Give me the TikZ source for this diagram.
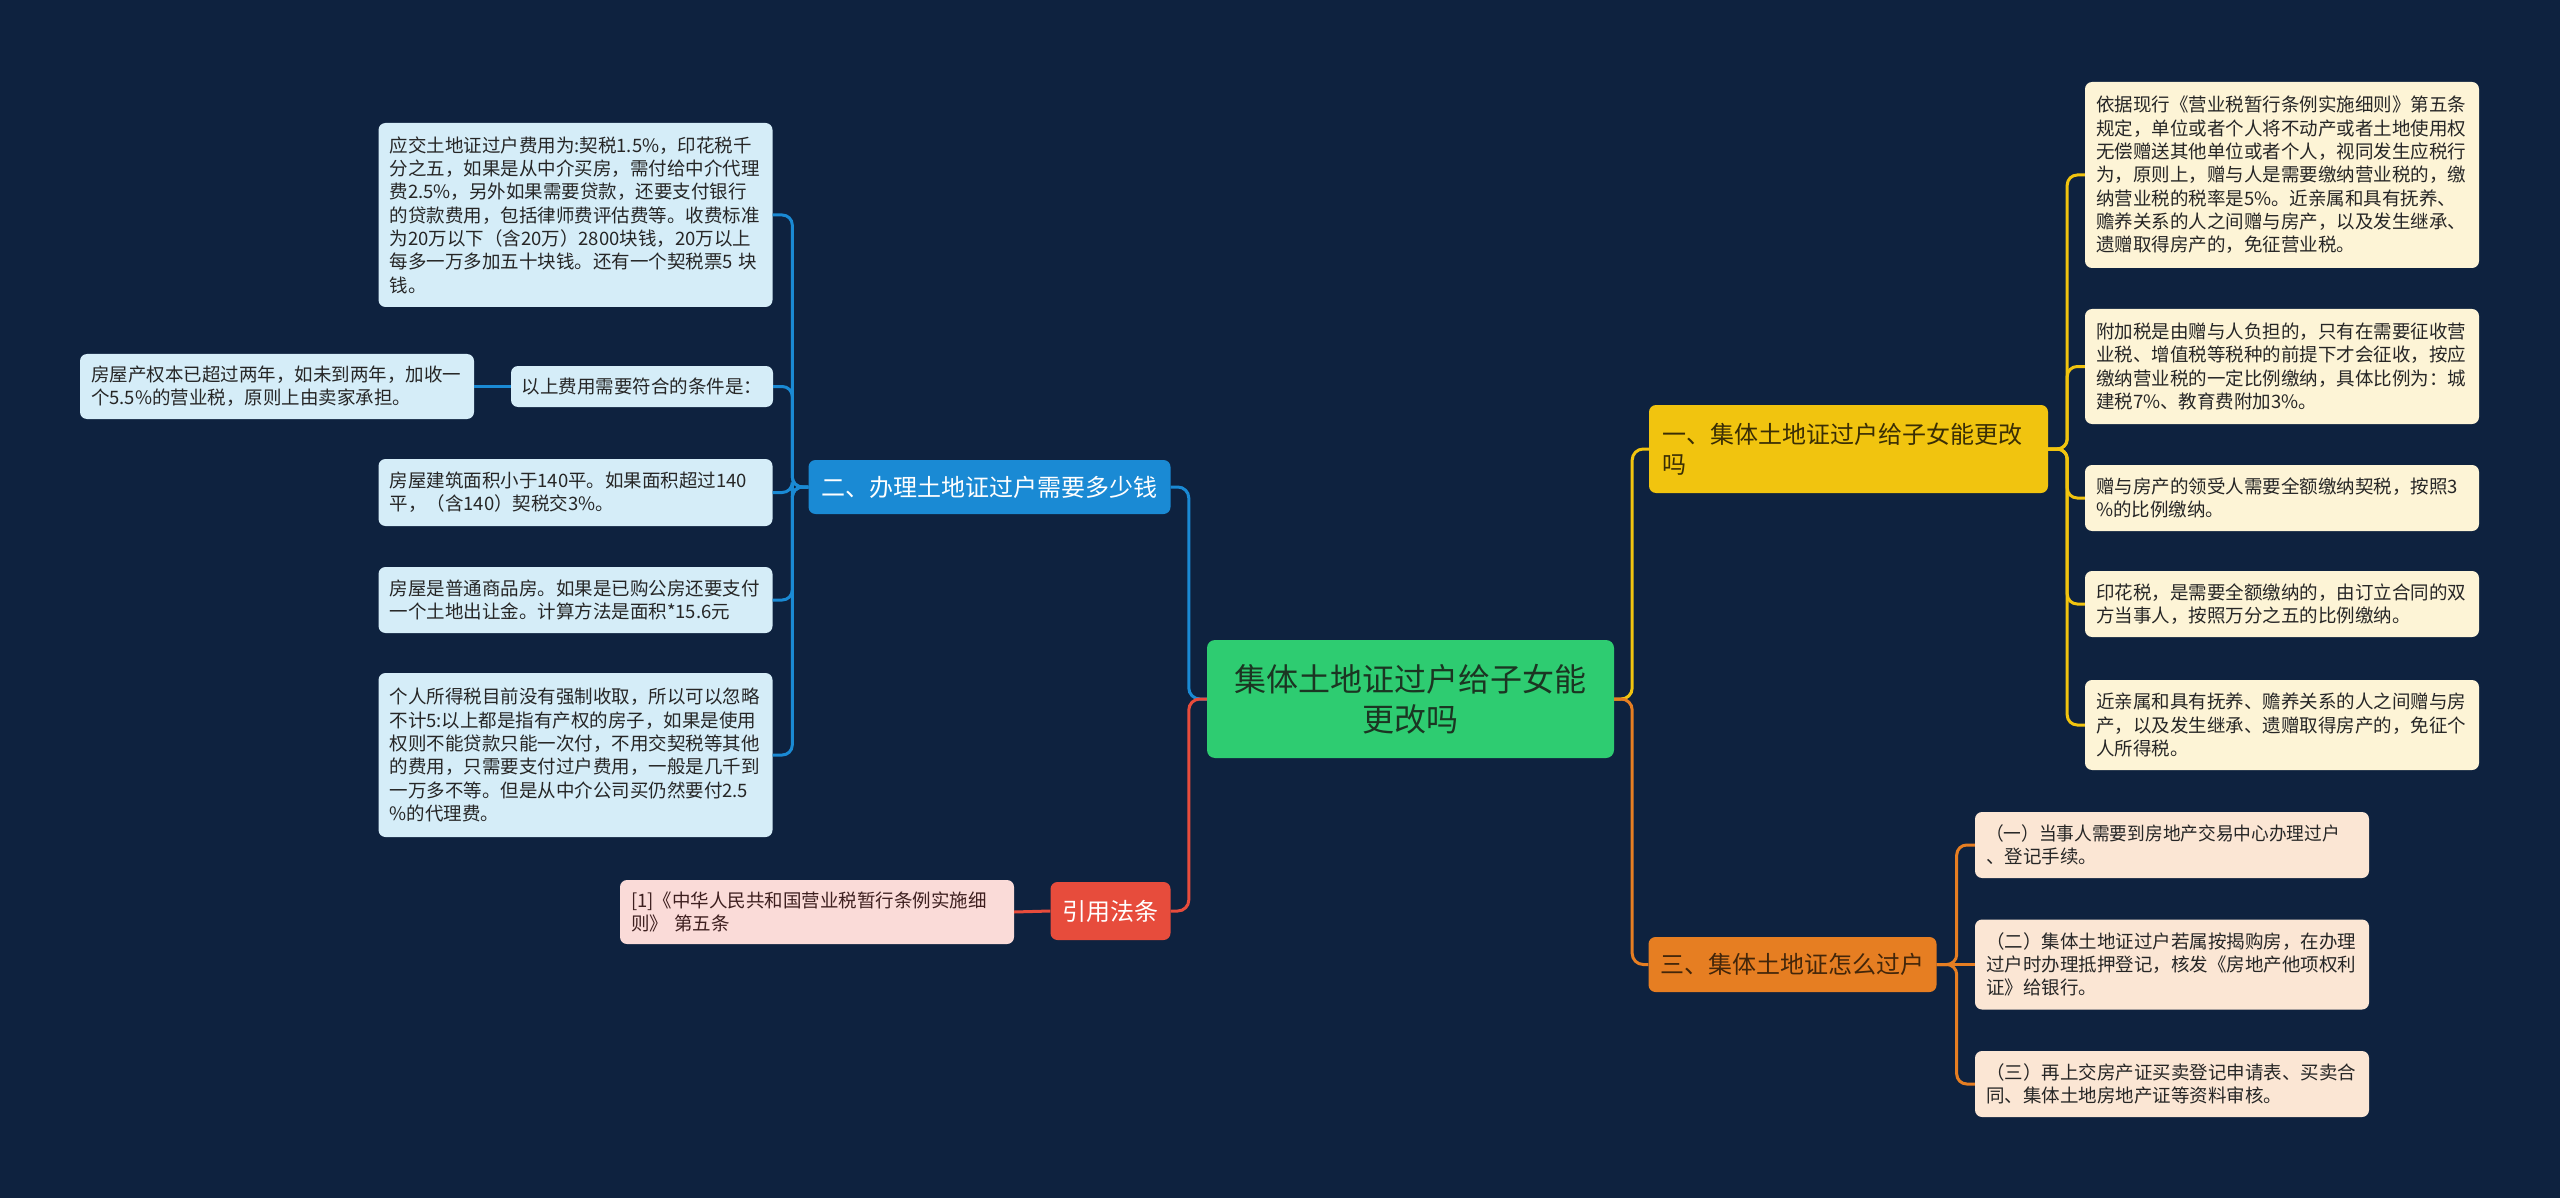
\documentclass[tikz,border=0pt]{standalone}
\usepackage{fontspec}
\setmainfont{Noto Sans CJK SC}
\usepackage{graphicx}
\usetikzlibrary{calc}
\definecolor{bgc}{HTML}{0E223F}
\definecolor{greenc}{HTML}{2ECC71}
\definecolor{yellowc}{HTML}{F1C40F}
\definecolor{orangec}{HTML}{E67E22}
\definecolor{redc}{HTML}{E74C3C}
\definecolor{bluec}{HTML}{1A8AD4}
\definecolor{bluelf}{HTML}{D5EDF8}
\definecolor{creamlf}{HTML}{FDF4D6}
\definecolor{orangelf}{HTML}{FBE6D4}
\definecolor{pinklf}{HTML}{FADBD8}
\definecolor{leaftxt}{HTML}{262626}
\definecolor{pinktxt}{HTML}{3D1F1F}
\definecolor{ctrtxt}{HTML}{1B3522}
\definecolor{ybtxt}{HTML}{3A2E05}
\definecolor{obtxt}{HTML}{43260A}
\newcommand\leaffont{\fontsize{18.5}{23.3}\selectfont}
\newcommand\brfont{\fontsize{24}{30}\selectfont}
\newcommand\ctrfont{\fontsize{32}{40}\selectfont}
\begin{document}
\begin{tikzpicture}[x=1pt,y=-1pt,
  leaf/.style={rounded corners=7pt, inner xsep=11pt, inner ysep=0pt, text width=372pt, align=left, font=\leaffont, text=leaftxt},
  blueleaf/.style={leaf, fill=bluelf},
  creamleaf/.style={leaf, fill=creamlf},
  orangeleaf/.style={leaf, fill=orangelf},
  pinkleaf/.style={leaf, fill=pinklf, text=pinktxt},
  branch/.style={rounded corners=7pt, inner xsep=13pt, inner ysep=0pt, font=\brfont},
  link/.style={line width=3pt, rounded corners=11pt},
  ylink/.style={link, draw=yellowc},
  olink/.style={link, draw=orangec},
  blink/.style={link, draw=bluec},
  rlink/.style={link, draw=redc}]
\fill[bgc] (0,0) rectangle (2560,1198);
\useasboundingbox (0,0) rectangle (2560,1198);

% center
\node[rounded corners=8pt, fill=greenc, text=ctrtxt, font=\ctrfont, align=center,
  minimum width=407pt, minimum height=118pt, inner sep=0pt] (ctr) at (1410.5,699)
  {集体土地证过户给子女能\\更改吗};

% main branches
\node[branch, fill=yellowc, text=ybtxt, text width=373pt, align=left, minimum height=88pt] (yb) at (1848.5,449)
  {一、集体土地证过户给子女能更改\\吗};
\node[branch, fill=orangec, text=obtxt, inner xsep=12pt, minimum height=55pt] (ob) at (1792.5,964.5)
  {三、集体土地证怎么过户};
\node[branch, fill=bluec, text=white, minimum height=54pt] (bb) at (989.5,487)
  {二、办理土地证过户需要多少钱};
\node[branch, fill=redc, text=white, inner xsep=12pt, minimum height=58pt] (rb) at (1110.5,911)
  {引用法条};

% blue leaves
\node[blueleaf, minimum height=184pt] (b1) at (575.5,215)
  {应交土地证过户费用为:契税1.5\%，印花税千\\分之五，如果是从中介买房，需付给中介代理\\费2.5\%，另外如果需要贷款，还要支付银行\\的贷款费用，包括律师费评估费等。收费标准\\为20万以下（含20万）2800块钱，20万以上\\每多一万多加五十块钱。还有一个契税票5 块\\钱。};
\node[rounded corners=7pt, fill=bluelf, text=leaftxt, font=\leaffont, inner xsep=10pt, inner ysep=0pt,
  minimum width=262pt, minimum height=41pt] (b2) at (642,386.5)
  {以上费用需要符合的条件是：};
\node[blueleaf, minimum height=65pt] (b2a) at (277,386.5)
  {房屋产权本已超过两年，如未到两年，加收一\\个5.5\%的营业税，原则上由卖家承担。};
\node[blueleaf, minimum height=67pt] (b3) at (575.5,492.5)
  {房屋建筑面积小于140平。如果面积超过140\\平，（含140）契税交3\%。};
\node[blueleaf, minimum height=66pt] (b4) at (575.5,600)
  {房屋是普通商品房。如果是已购公房还要支付\\一个土地出让金。计算方法是面积*15.6元};
\node[blueleaf, minimum height=164pt] (b5) at (575.5,755)
  {个人所得税目前没有强制收取，所以可以忽略\\不计5:以上都是指有产权的房子，如果是使用\\权则不能贷款只能一次付，不用交契税等其他\\的费用，只需要支付过户费用，一般是几千到\\一万多不等。但是从中介公司买仍然要付2.5\\\%的代理费。};

% pink leaf
\node[pinkleaf, minimum height=64pt] (p1) at (817,912)
  {[1]《中华人民共和国营业税暂行条例实施细\\则》 第五条};

% cream leaves
\node[creamleaf, minimum height=186pt] (l1) at (2282,175)
  {依据现行《营业税暂行条例实施细则》第五条\\规定，单位或者个人将不动产或者土地使用权\\无偿赠送其他单位或者个人，视同发生应税行\\为，原则上，赠与人是需要缴纳营业税的，缴\\纳营业税的税率是5\%。近亲属和具有抚养、\\赡养关系的人之间赠与房产，以及发生继承、\\遗赠取得房产的，免征营业税。};
\node[creamleaf, minimum height=115pt] (l2) at (2282,366.5)
  {附加税是由赠与人负担的，只有在需要征收营\\业税、增值税等税种的前提下才会征收，按应\\缴纳营业税的一定比例缴纳，具体比例为：城\\建税7\%、教育费附加3\%。};
\node[creamleaf, minimum height=66pt] (l3) at (2282,498)
  {赠与房产的领受人需要全额缴纳契税，按照3\\\%的比例缴纳。};
\node[creamleaf, minimum height=66pt] (l4) at (2282,604)
  {印花税，是需要全额缴纳的，由订立合同的双\\方当事人，按照万分之五的比例缴纳。};
\node[creamleaf, minimum height=90pt] (l5) at (2282,725)
  {近亲属和具有抚养、赡养关系的人之间赠与房\\产，以及发生继承、遗赠取得房产的，免征个\\人所得税。};

% orange leaves
\node[orangeleaf, minimum height=66pt] (o1) at (2172,845)
  {\makebox[372pt][l]{\scalebox{0.957}[1]{（一）当事人需要到房地产交易中心办理过户}}\\、登记手续。};
\node[orangeleaf, minimum height=90pt] (o2) at (2172,964.5)
  {（二）集体土地证过户若属按揭购房，在办理\\过户时办理抵押登记，核发《房地产他项权利\\证》给银行。};
\node[orangeleaf, minimum height=66pt] (o3) at (2172,1084)
  {（三）再上交房产证买卖登记申请表、买卖合\\同、集体土地房地产证等资料审核。};

% connectors: center to branches
\draw[ylink] (ctr.east) -- ++(18,0) |- (yb.west);
\draw[olink] (ctr.east) -- ++(18,0) |- (ob.west);
\draw[blink] (ctr.west) -- ++(-18,0) |- (bb.east);
\draw[rlink] (ctr.west) -- ++(-18,0) |- (rb.east);

% yellow branch to leaves
\foreach \n in {l1,l2,l3,l4,l5}
  \draw[ylink, rounded corners=10pt] (yb.east) -- ++(19,0) |- (\n.west);

% orange branch to leaves
\draw[olink, rounded corners=10pt] (ob.east) -- ++(20,0) |- (o1.west);
\draw[olink] (ob.east) -- (o2.west);
\draw[olink, rounded corners=10pt] (ob.east) -- ++(20,0) |- (o3.west);

% blue branch to leaves
\foreach \n in {b1,b2,b3,b4,b5}
  \draw[blink, rounded corners=10pt] (bb.west) -- ++(-16,0) |- (\n.east);
\draw[blink] (b2.west) -- (b2a.east);

% red to pink
\draw[rlink] (rb.west) -- (p1.east);

% redraw nodes above connectors
\end{tikzpicture}
\end{document}
